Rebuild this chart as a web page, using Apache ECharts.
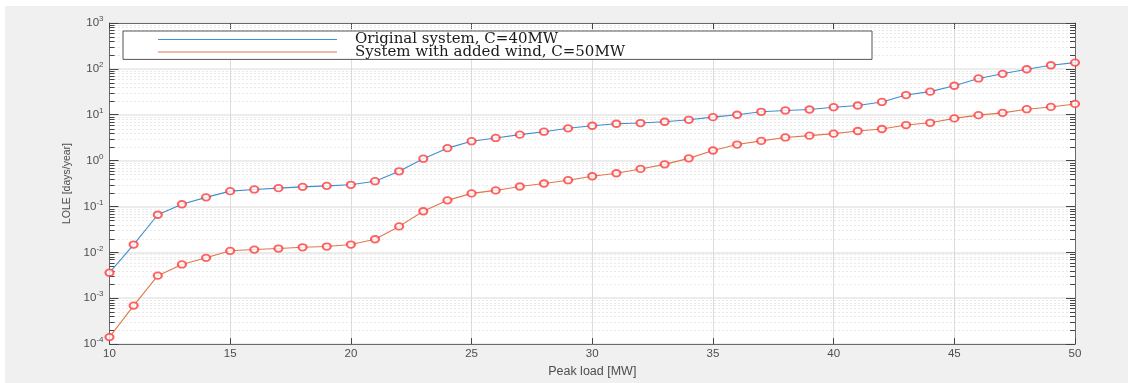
<!DOCTYPE html>
<html><head><meta charset="utf-8">
<script src="https://cdn.jsdelivr.net/npm/echarts@6/dist/echarts.min.js"></script>
<style>html,body{margin:0;padding:0;background:#fff}#c{width:1128px;height:383px}</style>
</head><body><div id="c"></div>
<script>
const peakLoad = [10,11,12,13,14,15,16,17,18,19,20,21,22,23,24,25,26,27,28,29,30,31,32,33,34,35,36,37,38,39,40,41,42,43,44,45,46,47,48,49,50];
const loleOriginal = [0.0036,0.0148,0.066,0.112,0.158,0.216,0.235,0.251,0.268,0.282,0.297,0.356,0.585,1.10,1.87,2.65,3.12,3.68,4.27,5.06,5.76,6.36,6.59,7.03,7.76,8.87,10.0,11.6,12.4,13.0,14.6,15.9,19.0,26.9,31.9,42.9,61.8,78.0,98,120,137];
const loleWind = [1.42e-4,6.9e-4,3.1e-3,5.45e-3,7.6e-3,0.0108,0.0115,0.0121,0.0129,0.0134,0.0148,0.0193,0.0368,0.0787,0.136,0.193,0.224,0.273,0.317,0.374,0.456,0.530,0.659,0.828,1.12,1.66,2.24,2.69,3.2,3.50,3.87,4.42,4.89,5.96,6.68,8.32,9.80,11.0,13.2,14.8,17.2];
const seriesNames = ['Original system, C=40MW', 'System with added wind, C=50MW'];
const xTitle = 'Peak load [MW]';
const yTitle = 'LOLE [days/year]';
const xMin = 10, xMax = 50, xStep = 5;
const yMin = 1e-4, yMax = 1e3;
const minorMultipliers = [2,3,4,5,6,7,8,9];
const decadeExponents = [-4,-3,-2,-1,0,1,2];

const minorTicks = [];
decadeExponents.forEach(e => minorMultipliers.forEach(m => minorTicks.push([xMin, m * Math.pow(10, e)])));

const chart = echarts.init(document.getElementById('c'), null, {renderer: 'canvas'});
const axisCol = '#6a6a6a';
const labelCol = '#4d4d4d';
const logAxisBase = {
  type: 'log', logBase: 10, min: yMin, max: yMax
};
chart.setOption({
  animation: false,
  backgroundColor: '#ffffff',
  graphic: [{type: 'rect', left: 5, top: 6, shape: {width: 1123, height: 377}, style: {fill: '#f0f0f0'}, z: -100, silent: true}],
  grid: {left: 109.5, right: 53, top: 23, bottom: 34, show: true, backgroundColor: '#ffffff', borderWidth: 0},
  legend: {
    data: seriesNames,
    orient: 'vertical',
    left: 123, top: 31,
    padding: [1, 12, 0, 35],
    itemGap: -2.6,
    itemWidth: 179, itemHeight: 1,
    icon: 'rect',
    backgroundColor: '#ffffff',
    borderColor: '#555555', borderWidth: 1, borderRadius: 0,
    selectedMode: false,
    textStyle: {fontFamily: 'DejaVu Serif', fontSize: 15, color: '#1a1a1a', lineHeight: 10.7, padding: [0, 0, 0, 13], width: 505, overflow: 'none'}
  },
  xAxis: [{
    type: 'value', min: xMin, max: xMax, interval: xStep,
    name: xTitle, nameLocation: 'middle', nameGap: 16,
    nameTextStyle: {fontFamily: 'Liberation Sans', fontSize: 12.5, color: labelCol},
    axisLine: {show: true, lineStyle: {color: axisCol, width: 1}},
    axisTick: {show: true, inside: true, length: 6, lineStyle: {color: '#444'}},
    axisLabel: {fontFamily: 'Liberation Sans', fontSize: 11.5, color: labelCol, margin: 4},
    splitLine: {show: true, lineStyle: {color: '#dcdcdc', width: 1}}
  }, {
    type: 'value', min: xMin, max: xMax, interval: xStep, position: 'top',
    axisLine: {show: true, onZero: false, lineStyle: {color: axisCol, width: 1}},
    axisTick: {show: true, inside: true, length: 6, lineStyle: {color: '#444'}},
    axisLabel: {show: false}, splitLine: {show: false}
  }],
  yAxis: [Object.assign({}, logAxisBase, {
    name: yTitle, nameLocation: 'middle', nameGap: 37,
    nameTextStyle: {fontFamily: 'Liberation Sans', fontSize: 10.5, color: labelCol},
    axisLine: {show: true, lineStyle: {color: axisCol, width: 1}},
    axisTick: {show: true, inside: true, length: 9, lineStyle: {color: '#444'}},
    axisLabel: {
      margin: 6, color: labelCol,
      formatter: v => '{b|10}{s|' + Math.round(Math.log10(v)) + '}',
      rich: {b: {fontFamily: 'Liberation Sans', fontSize: 11.5, color: labelCol},
             s: {fontFamily: 'Liberation Sans', fontSize: 8, color: labelCol, padding: [0, 0, 8, 0]}}
    },
    splitLine: {show: true, lineStyle: {color: '#e6e6e6', width: 1.5}}
  }), Object.assign({}, logAxisBase, {
    position: 'right',
    axisLine: {show: true, lineStyle: {color: axisCol, width: 1}},
    axisTick: {show: true, inside: true, length: 9, lineStyle: {color: '#444'}},
    axisLabel: {show: false}, splitLine: {show: false}
  })],
  series: [
    {
      type: 'custom', z: 1, silent: true, clip: false,
      xAxisIndex: 0, yAxisIndex: 0,
      data: minorTicks, encode: {x: 0, y: 1},
      renderItem: (params, api) => {
        const v = api.value(1);
        const p0 = api.coord([xMin, v]);
        const p1 = api.coord([xMax, v]);
        const y = Math.round(p0[1]) + 0.5;
        return {type: 'group', children: [
          {type: 'line', shape: {x1: p0[0] + 1, y1: y, x2: p1[0] - 1, y2: y}, style: {stroke: '#d2d2d2', lineWidth: 1, lineDash: [1, 3]}},
          {type: 'line', shape: {x1: p0[0], y1: y, x2: p0[0] + 5, y2: y}, style: {stroke: '#444', lineWidth: 1}},
          {type: 'line', shape: {x1: p1[0] - 5, y1: y, x2: p1[0], y2: y}, style: {stroke: '#444', lineWidth: 1}}
        ]};
      }
    },
    {
      name: seriesNames[0], type: 'line', z: 3,
      data: peakLoad.map((x, i) => [x, loleOriginal[i]]),
      showSymbol: false, symbol: 'none',
      lineStyle: {color: '#3f8fcf', width: 1.1},
      itemStyle: {color: '#3f8fcf'}
    },
    {
      name: seriesNames[1], type: 'line', z: 3,
      data: peakLoad.map((x, i) => [x, loleWind[i]]),
      showSymbol: false, symbol: 'none',
      lineStyle: {color: '#e0784a', width: 1.1},
      itemStyle: {color: '#e0784a'}
    },
    {
      type: 'scatter', z: 4, clip: false,
      data: peakLoad.map((x, i) => [x, loleOriginal[i]]),
      symbol: 'emptyCircle', symbolSize: [8, 6.5],
      itemStyle: {color: '#ff3b3b', borderColor: '#ff4d4d', borderWidth: 0.7}
    },
    {
      type: 'scatter', z: 4, clip: false,
      data: peakLoad.map((x, i) => [x, loleWind[i]]),
      symbol: 'emptyCircle', symbolSize: [8, 6.5],
      itemStyle: {color: '#ff3b3b', borderColor: '#ff4d4d', borderWidth: 0.7}
    }
  ]
});
</script></body></html>
